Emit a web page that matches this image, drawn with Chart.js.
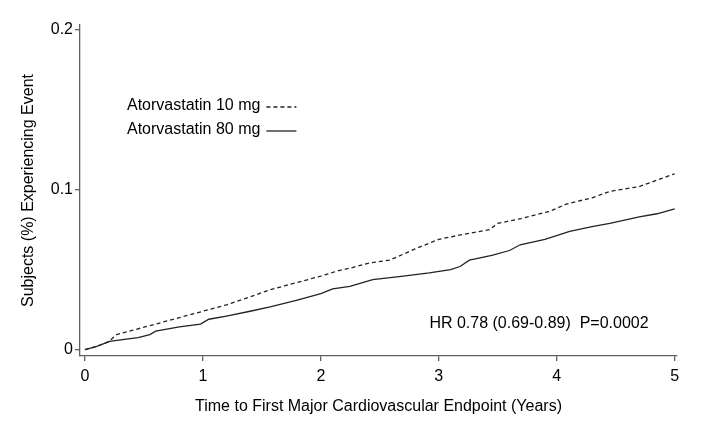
<!DOCTYPE html>
<html>
<head>
<meta charset="utf-8">
<script src="https://cdn.jsdelivr.net/npm/chart.js@4"></script>
<style>
  html, body { margin: 0; padding: 0; background: #fff; }
</style>
</head>
<body>
<canvas id="kmChart" width="709" height="421"></canvas>
<script>
// values (years, cumulative event proportion)
const years10 = [0, 0.1, 0.2, 0.27, 0.4, 0.55, 0.7, 0.8, 1.0, 1.2, 1.4, 1.57, 1.8, 2.0, 2.16, 2.25, 2.4, 2.585, 2.8, 3.0, 3.2, 3.43, 3.5, 3.7, 3.94, 4.08, 4.3, 4.45, 4.7, 4.85, 5.0];
const events10 = [0, 0.002, 0.005, 0.0094, 0.012, 0.015, 0.018, 0.020, 0.024, 0.028, 0.033, 0.0375, 0.042, 0.046, 0.0496, 0.051, 0.054, 0.056, 0.063, 0.069, 0.072, 0.075, 0.079, 0.082, 0.0865, 0.091, 0.095, 0.099, 0.102, 0.106, 0.110];

const years80 = [0, 0.1, 0.21, 0.27, 0.45, 0.55, 0.6, 0.8, 0.98, 1.05, 1.2, 1.4, 1.57, 1.8, 2.0, 2.1, 2.246, 2.44, 2.7, 2.92, 3.1, 3.18, 3.26, 3.45, 3.6, 3.69, 3.9, 4.11, 4.3, 4.45, 4.7, 4.85, 5.0];
const events80 = [0, 0.002, 0.0052, 0.0058, 0.0075, 0.0094, 0.0115, 0.0142, 0.016, 0.019, 0.021, 0.024, 0.0267, 0.031, 0.035, 0.038, 0.0396, 0.0438, 0.046, 0.048, 0.050, 0.052, 0.056, 0.059, 0.062, 0.0656, 0.069, 0.074, 0.077, 0.079, 0.083, 0.085, 0.088];

const xTicks = [0, 1, 2, 3, 4, 5];
const yTicks = [0, 0.1, 0.2];
const yTickLabels = ['0', '0.1', '0.2'];

const seriesNames = ['Atorvastatin 10 mg', 'Atorvastatin 80 mg'];
const hrText = 'HR 0.78 (0.69-0.89)  P=0.0002';

const FONT = '"Liberation Sans", Arial, sans-serif';
const axisColor = '#606060';
const lineColor = '#222';

function toPoints(xs, ys) {
    return xs.map((x, i) => ({ x: x, y: ys[i] }));
}

// legend drawn as text + line samples, like the original Stata figure
const legendPlugin = {
    id: 'kmLegend',
    afterDraw(chart) {
        const ctx = chart.ctx;
        ctx.save();
        ctx.font = '16px ' + FONT;
        ctx.fillStyle = '#000';
        ctx.textBaseline = 'middle';
        ctx.textAlign = 'left';
        const rows = [
            { y: 106, dash: [4, 3] },
            { y: 130, dash: [] }
        ];
        rows.forEach((r, i) => {
            ctx.fillText(seriesNames[i], 127, r.y);
            const w = ctx.measureText(seriesNames[i]).width;
            ctx.beginPath();
            ctx.setLineDash(r.dash);
            ctx.strokeStyle = lineColor;
            ctx.lineWidth = 1.3;
            ctx.moveTo(127 + w + 6, r.y + 1);
            ctx.lineTo(127 + w + 36, r.y + 1);
            ctx.stroke();
        });
        ctx.restore();
    }
};

const hrPlugin = {
    id: 'hrNote',
    afterDraw(chart) {
        const ctx = chart.ctx;
        const xs = chart.scales.x;
        const ys = chart.scales.y;
        ctx.save();
        ctx.font = '16px ' + FONT;
        ctx.fillStyle = '#000';
        ctx.textAlign = 'center';
        ctx.textBaseline = 'middle';
        ctx.fillText(hrText, xs.getPixelForValue(3.85), ys.getPixelForValue(0.0163));
        ctx.restore();
    }
};

new Chart(document.getElementById('kmChart').getContext('2d'), {
    type: 'line',
    data: {
        datasets: [
            {
                label: seriesNames[0],
                data: toPoints(years10, events10),
                borderColor: lineColor,
                borderWidth: 1.3,
                borderDash: [4, 3],
                pointRadius: 0,
                fill: false,
                tension: 0
            },
            {
                label: seriesNames[1],
                data: toPoints(years80, events80),
                borderColor: lineColor,
                borderWidth: 1.3,
                pointRadius: 0,
                fill: false,
                tension: 0
            }
        ]
    },
    options: {
        responsive: false,
        animation: false,
        layout: { padding: { top: 25, right: 32, bottom: 0, left: 0 } },
        plugins: {
            legend: { display: false },
            tooltip: { enabled: false }
        },
        scales: {
            x: {
                type: 'linear',
                min: -0.042,
                max: 5.02,
                afterFit(scale) { scale.height = 65; },
                afterBuildTicks(scale) { scale.ticks = xTicks.map(v => ({ value: v })); },
                border: { color: axisColor, width: 1.3 },
                grid: { drawOnChartArea: false, drawTicks: true, tickLength: 5, color: axisColor, lineWidth: 1.3 },
                ticks: {
                    color: '#000',
                    font: { family: FONT, size: 16 },
                    padding: 6,
                    maxRotation: 0,
                    callback: v => String(v)
                },
                title: {
                    display: true,
                    text: 'Time to First Major Cardiovascular Endpoint (Years)',
                    color: '#000',
                    font: { family: FONT, size: 16 },
                    padding: { top: 0, bottom: 5 }
                }
            },
            y: {
                type: 'linear',
                min: -0.004,
                max: 0.2031,
                afterFit(scale) { scale.width = 80; },
                afterBuildTicks(scale) { scale.ticks = yTicks.map(v => ({ value: v })); },
                border: { color: axisColor, width: 1.3 },
                grid: { drawOnChartArea: false, drawTicks: true, tickLength: 5, color: axisColor, lineWidth: 1.3 },
                ticks: {
                    color: '#000',
                    font: { family: FONT, size: 16 },
                    padding: 2,
                    callback: v => yTickLabels[yTicks.indexOf(v)]
                },
                title: {
                    display: true,
                    text: 'Subjects (%) Experiencing Event',
                    color: '#000',
                    font: { family: FONT, size: 16 },
                    padding: { top: 19, bottom: 0 }
                }
            }
        }
    },
    plugins: [legendPlugin, hrPlugin]
});
</script>
</body>
</html>
